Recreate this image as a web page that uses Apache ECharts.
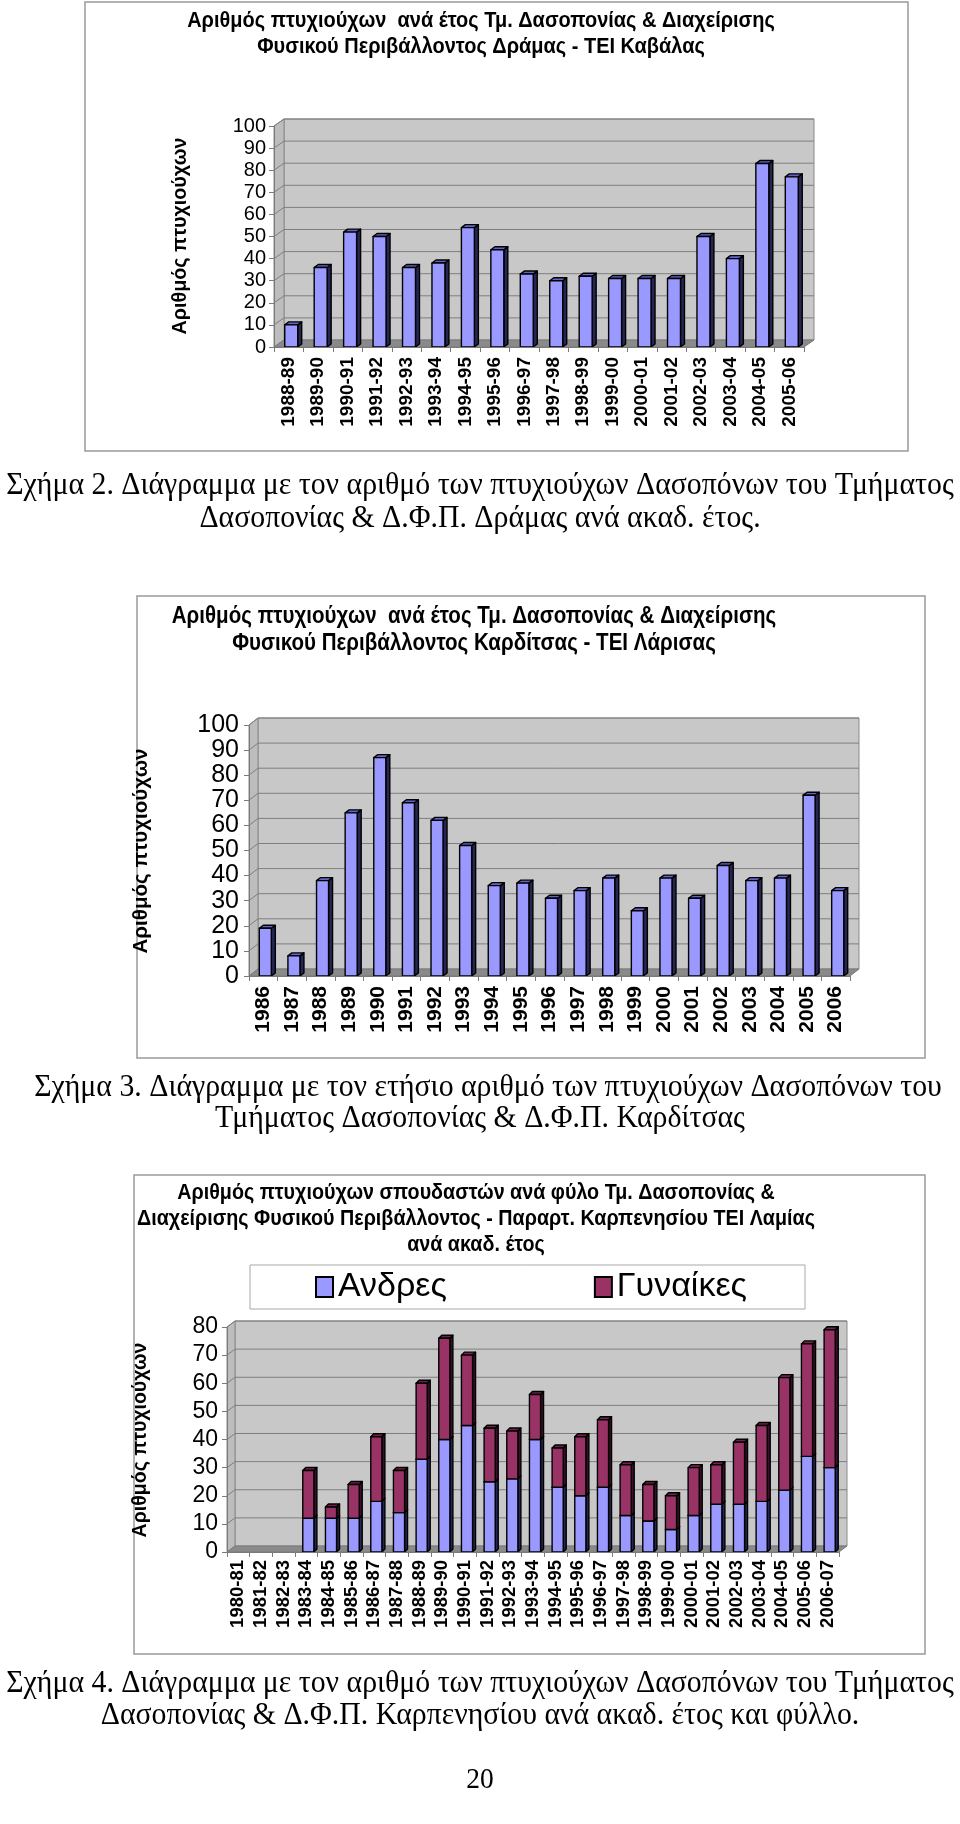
<!DOCTYPE html>
<html>
<head>
<meta charset="utf-8">
<script src="https://cdn.jsdelivr.net/npm/echarts@6/dist/echarts.min.js"></script>
<style>
html,body{margin:0;padding:0;background:#fff;}
#c{width:960px;height:1824px;}
</style>
</head>
<body>
<div id="c"></div>
<script>
// ---------- DATA ----------
const cats1 = ['1988-89','1989-90','1990-91','1991-92','1992-93','1993-94','1994-95','1995-96','1996-97','1997-98','1998-99','1999-00','2000-01','2001-02','2002-03','2003-04','2004-05','2005-06'];
const vals1 = [10,36,52,50,36,38,54,44,33,30,32,31,31,31,50,40,83,77];
const ticks1 = [0,10,20,30,40,50,60,70,80,90,100];

const cats2 = ['1986','1987','1988','1989','1990','1991','1992','1993','1994','1995','1996','1997','1998','1999','2000','2001','2002','2003','2004','2005','2006'];
const vals2 = [19,8,38,65,87,69,62,52,36,37,31,34,39,26,39,31,44,38,39,72,34];
const ticks2 = [0,10,20,30,40,50,60,70,80,90,100];

const cats3 = ['1980-81','1981-82','1982-83','1983-84','1984-85','1985-86','1986-87','1987-88','1988-89','1989-90','1990-91','1991-92','1992-93','1993-94','1994-95','1995-96','1996-97','1997-98','1998-99','1999-00','2000-01','2001-02','2002-03','2003-04','2004-05','2005-06','2006-07'];
const men3   = [0,0,0,12,12,12,18,14,33,40,45,25,26,40,23,20,23,13,11,8,13,17,17,18,22,34,30];
const women3 = [0,0,0,17,4,12,23,15,27,36,25,19,17,16,14,21,24,18,13,12,17,14,22,27,40,40,49];
const ticks3 = [0,10,20,30,40,50,60,70,80];

const legendNames = ['Ανδρες','Γυναίκες'];
const yName = 'Αριθμός πτυχιούχων';
const title1 = ['Αριθμός πτυχιούχων  ανά έτος Τμ. Δασοπονίας & Διαχείρισης','Φυσικού Περιβάλλοντος Δράμας - ΤΕΙ Καβάλας'];
const title2 = ['Αριθμός πτυχιούχων  ανά έτος Τμ. Δασοπονίας & Διαχείρισης','Φυσικού Περιβάλλοντος Καρδίτσας - ΤΕΙ Λάρισας'];
const title3 = ['Αριθμός πτυχιούχων σπουδαστών ανά φύλο Τμ. Δασοπονίας &','Διαχείρισης Φυσικού Περιβάλλοντος - Παραρτ. Καρπενησίου ΤΕΙ Λαμίας','ανά ακαδ. έτος'];
const caption1 = ['Σχήμα 2. Διάγραμμα με τον αριθμό των πτυχιούχων Δασοπόνων του Τμήματος','Δασοπονίας & Δ.Φ.Π. Δράμας ανά ακαδ. έτος.'];
const caption2 = ['Σχήμα 3. Διάγραμμα με τον ετήσιο αριθμό των πτυχιούχων Δασοπόνων του','Τμήματος Δασοπονίας & Δ.Φ.Π. Καρδίτσας'];
const caption3 = ['Σχήμα 4. Διάγραμμα με τον αριθμό των πτυχιούχων Δασοπόνων του Τμήματος','Δασοπονίας & Δ.Φ.Π. Καρπενησίου ανά ακαδ. έτος και φύλλο.'];
const pageNo = '20';

// ---------- HELPERS ----------
const SANS = "'Liberation Sans', Arial, sans-serif";
const SERIF = "'Liberation Serif', 'Times New Roman', serif";
const mctx = document.createElement('canvas').getContext('2d');
function textW(text, weight, size, family){
  mctx.font = weight + ' ' + size + 'px ' + family;
  return mctx.measureText(text).width;
}
function fitSize(text, weight, family, targetW){
  return 100 * targetW / textW(text, weight, 100, family);
}

function wallRender(ticks, dx, dy){
  return function(params, api){
    const cs = params.coordSys;
    const x0 = cs.x, x1 = cs.x + cs.width, yt = cs.y, yb = cs.y + cs.height;
    const ch = [];
    ch.push({type:'rect', shape:{x:x0+dx, y:yt-dy, width:cs.width, height:cs.height},
      style:{fill:'#C8C8C8', stroke:'#8A8A8A', lineWidth:1}});
    ch.push({type:'polygon', shape:{points:[[x0,yb],[x0,yt],[x0+dx,yt-dy],[x0+dx,yb-dy]]},
      style:{fill:'#BDBDBD', stroke:'#8A8A8A', lineWidth:1}});
    ticks.forEach(function(t){
      if (t === 0) return;
      const y = api.coord([0, t])[1];
      ch.push({type:'polyline', shape:{points:[[x0,y],[x0+dx,y-dy],[x1+dx,y-dy]]},
        style:{stroke:'#7E7E7E', lineWidth:1, fill:null}});
    });
    ch.push({type:'polygon', shape:{points:[[x0,yb],[x1,yb],[x1+dx,yb-dy],[x0+dx,yb-dy]]},
      style:{fill:'#8A8A8A', stroke:'#7A7A7A', lineWidth:1}});
    return {type:'group', children:ch};
  };
}

function barRender(ratio, shift, bdx, bdy, cFront, cTop, cSide){
  return function(params, api){
    const i = api.value(0), top = api.value(1), base = api.value(2);
    if (!(top > base)) return null;
    const bw = api.size([1, 0])[0];
    const cx = api.coord([i, 0])[0];
    const w = bw * ratio;
    const xl = cx - w/2 + shift, xr = xl + w;
    const yTop = api.coord([i, top])[1], yBase = api.coord([i, base])[1];
    const ls = {stroke:'#000', lineWidth:1.4, lineJoin:'round'};
    return {type:'group', children:[
      {type:'polygon', shape:{points:[[xr,yBase],[xr,yTop],[xr+bdx,yTop-bdy],[xr+bdx,yBase-bdy]]},
        style:Object.assign({fill:cSide}, ls)},
      {type:'polygon', shape:{points:[[xl,yTop],[xr,yTop],[xr+bdx,yTop-bdy],[xl+bdx,yTop-bdy]]},
        style:Object.assign({fill:cTop}, ls)},
      {type:'rect', shape:{x:xl, y:yTop, width:w, height:yBase-yTop},
        style:Object.assign({fill:cFront}, ls)}
    ]};
  };
}

function xAxisCfg(idx, data, fs, margin){
  return {type:'category', gridIndex:idx, data:data, z:5,
    axisLine:{show:true, lineStyle:{color:'#7A7A7A', width:1}},
    axisTick:{show:true, length:5, lineStyle:{color:'#7A7A7A'}},
    axisLabel:{rotate:90, interval:0, fontSize:fs, fontWeight:'bold', color:'#000', margin:margin, fontFamily:SANS},
    splitLine:{show:false}};
}
function yAxisCfg(idx, max, fs, margin){
  return {type:'value', gridIndex:idx, min:0, max:max, interval:10, z:5,
    axisLine:{show:true, lineStyle:{color:'#7A7A7A', width:1}},
    axisTick:{show:true, length:5, lineStyle:{color:'#7A7A7A'}},
    axisLabel:{fontSize:fs, color:'#000', margin:margin, fontFamily:SANS},
    splitLine:{show:false}};
}

// ---------- LAYOUT ----------
const boxes = [
  {x:85, y:2, w:823, h:449},
  {x:137, y:596, w:788, h:462},
  {x:134, y:1175, w:791, h:479}
];

const TSTRETCH = 1.15;   // tall, condensed look of chart titles
const CSTRETCH = 1.06;   // captions
const tSize1 = fitSize(title1[0], 'bold', SANS, 588);
const tSize2 = fitSize(title2[0], 'bold', SANS, 605);
const tSize3 = fitSize(title3[0], 'bold', SANS, 598);
const capSize = fitSize(caption2[0], 'normal', SERIF, 908);

const graphics = [];
boxes.forEach(function(b){
  graphics.push({type:'rect', shape:{x:b.x, y:b.y, width:b.w, height:b.h},
    style:{fill:'#fff', stroke:'#9A9A9A', lineWidth:1.5}, z:-10});
});
function addText(txt, x, y, size, weight, family, rot, stretch){
  const s = stretch || 1;
  graphics.push({type:'text', x:x, y:y, rotation:rot||0, scaleX:1/s, z:10,
    style:{text:txt, x:0, y:0, fill:'#000', fontSize:size*s, fontWeight:weight, fontFamily:family,
      textAlign:'center', textVerticalAlign:'middle'}});
}
addText(title1[0], 481, 21, tSize1, 'bold', SANS, 0, TSTRETCH);
addText(title1[1], 481, 47, tSize1, 'bold', SANS, 0, TSTRETCH);
addText(title2[0], 474, 616, tSize2, 'bold', SANS, 0, TSTRETCH);
addText(title2[1], 474, 643, tSize2, 'bold', SANS, 0, TSTRETCH);
addText(title3[0], 476, 1193, tSize3, 'bold', SANS, 0, TSTRETCH);
addText(title3[1], 476, 1219, tSize3, 'bold', SANS, 0, TSTRETCH);
addText(title3[2], 476, 1245, tSize3, 'bold', SANS, 0, TSTRETCH);
addText(yName, 181, 236, fitSize(yName,'bold',SANS,197), 'bold', SANS, Math.PI/2);
addText(yName, 141, 851, fitSize(yName,'bold',SANS,205), 'bold', SANS, Math.PI/2);
addText(yName, 141, 1440, fitSize(yName,'bold',SANS,195), 'bold', SANS, Math.PI/2);
addText(caption1[0], 480, 486, capSize, 'normal', SERIF, 0, CSTRETCH);
addText(caption1[1], 480, 519, capSize, 'normal', SERIF, 0, CSTRETCH);
addText(caption2[0], 488, 1088, capSize, 'normal', SERIF, 0, CSTRETCH);
addText(caption2[1], 480, 1119, capSize, 'normal', SERIF, 0, CSTRETCH);
addText(caption3[0], 480, 1684, capSize, 'normal', SERIF, 0, CSTRETCH);
addText(caption3[1], 480, 1716, capSize, 'normal', SERIF, 0, CSTRETCH);
addText(pageNo, 480, 1780, capSize*0.92, 'normal', SERIF, 0, CSTRETCH);

// legend geometry (box 250..803 x 1265..1305)
const LEG_FS = 34, LEG_IW = 17, LEG_GAP = 147, LEG_PADL = 65, LEG_BOXW = 553;
const lw1 = textW(legendNames[0], 'normal', LEG_FS, SANS);
const lw2 = textW(legendNames[1], 'normal', LEG_FS, SANS);
const LEG_PADR = Math.max(4, LEG_BOXW - (LEG_PADL + 2*(LEG_IW+5) + lw1 + lw2 + LEG_GAP));

const BLUE = ['#9999FF','#6464C8','#262654'];
const MAROON = ['#993366','#70244A','#3A1026'];

const option = {
  animation:false,
  backgroundColor:'#fff',
  graphic:graphics,
  legend:{
    data:legendNames, left:250, top:1265, orient:'horizontal',
    padding:[5,LEG_PADR,5,LEG_PADL], itemGap:LEG_GAP, itemWidth:LEG_IW, itemHeight:20,
    backgroundColor:'#fff', borderColor:'#A8A8A8', borderWidth:1,
    textStyle:{fontSize:LEG_FS, lineHeight:30, color:'#000', fontFamily:SANS},
    icon:'rect', selectedMode:false
  },
  grid:[
    {left:274, top:126, width:530, height:221},
    {left:249, top:725, width:601, height:251},
    {left:227, top:1327, width:612, height:225}
  ],
  xAxis:[xAxisCfg(0,cats1,19,10), xAxisCfg(1,cats2,21,10), xAxisCfg(2,cats3,18.5,8)],
  yAxis:[yAxisCfg(0,100,20,8), yAxisCfg(1,100,25,10), yAxisCfg(2,80,23,9)],
  series:[
    {type:'custom', name:'wall1', xAxisIndex:0, yAxisIndex:0, z:1, silent:true, data:[[0,0]], renderItem:wallRender(ticks1,10,7)},
    {type:'custom', name:'wall2', xAxisIndex:1, yAxisIndex:1, z:1, silent:true, data:[[0,0]], renderItem:wallRender(ticks2,9,7)},
    {type:'custom', name:'wall3', xAxisIndex:2, yAxisIndex:2, z:1, silent:true, data:[[0,0]], renderItem:wallRender(ticks3,8,6)},
    {type:'custom', name:'Δράμα', xAxisIndex:0, yAxisIndex:0, z:2, encode:{x:0,y:1},
      data:vals1.map(function(v,i){return [i,v,0];}), renderItem:barRender(0.44,2.5,4,3,BLUE[0],BLUE[1],BLUE[2])},
    {type:'custom', name:'Καρδίτσα', xAxisIndex:1, yAxisIndex:1, z:2, encode:{x:0,y:1},
      data:vals2.map(function(v,i){return [i,v,0];}), renderItem:barRender(0.42,2,4,3,BLUE[0],BLUE[1],BLUE[2])},
    {type:'custom', name:legendNames[0], xAxisIndex:2, yAxisIndex:2, z:2, encode:{x:0,y:1},
      itemStyle:{color:BLUE[0], borderColor:'#000', borderWidth:1.5},
      data:men3.map(function(v,i){return [i,v,0];}), renderItem:barRender(0.49,2,3,3,BLUE[0],BLUE[1],BLUE[2])},
    {type:'custom', name:legendNames[1], xAxisIndex:2, yAxisIndex:2, z:3, encode:{x:0,y:1},
      itemStyle:{color:MAROON[0], borderColor:'#000', borderWidth:1.5},
      data:women3.map(function(v,i){return [i,men3[i]+v,men3[i]];}), renderItem:barRender(0.49,2,3,3,MAROON[0],MAROON[1],MAROON[2])}
  ]
};

const chart = echarts.init(document.getElementById('c'), null, {renderer:'canvas', width:960, height:1824});
chart.setOption(option);
</script>
</body>
</html>
